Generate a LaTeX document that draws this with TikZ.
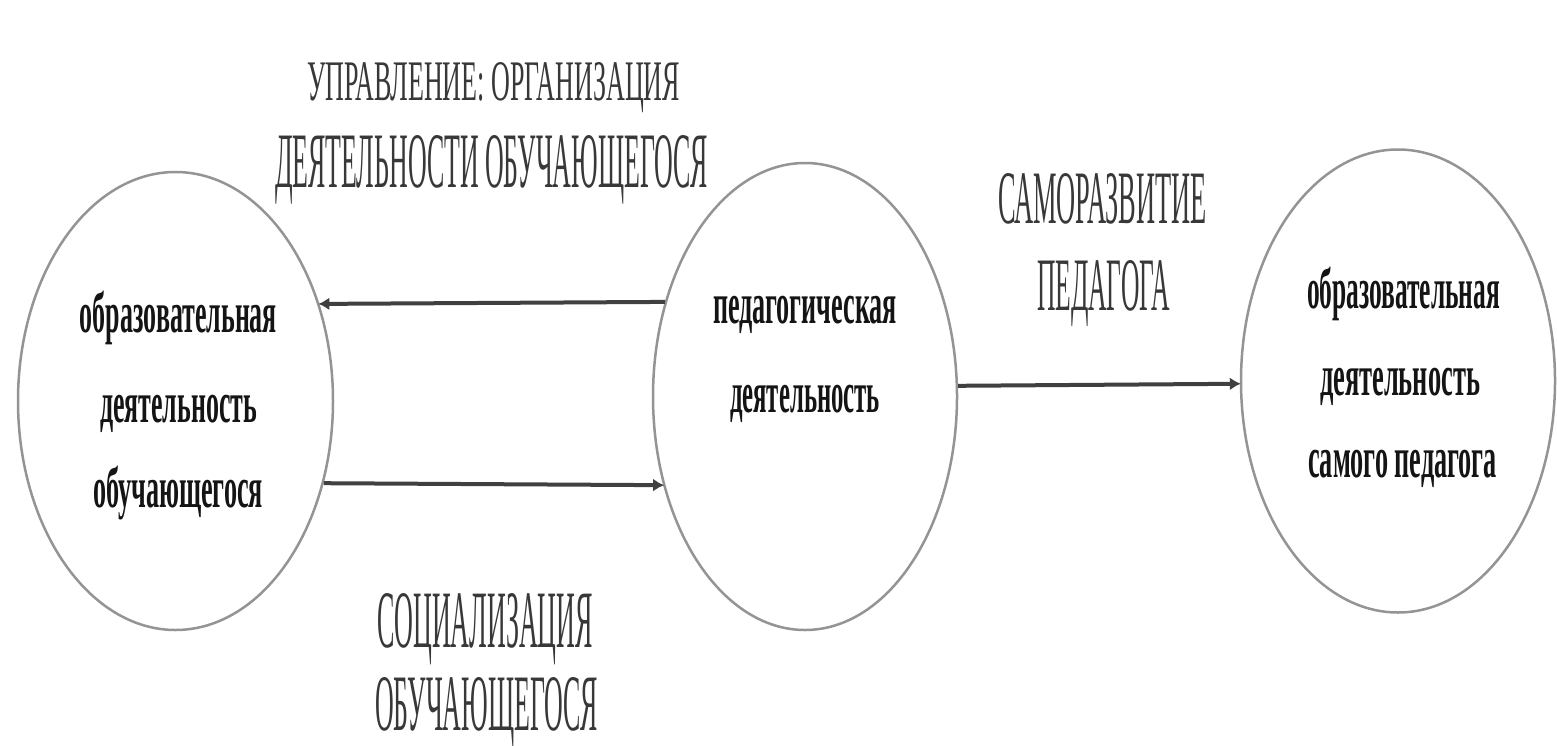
\documentclass[tikz,border=0pt]{standalone}
\usepackage{fontspec}
\setmainfont{Liberation Serif}
\usetikzlibrary{shapes.geometric,arrows.meta}
\newcommand\capln[3]{\resizebox{#1pt}{#2pt}{\fontsize{60}{60}\selectfont #3}}
\newcommand\lowln[2]{\resizebox{#1pt}{\height}{\fontsize{58}{58}\selectfont\bfseries #2}}
\tikzset{
  blob/.style={ellipse, draw=black!42, line width=2.5pt, inner sep=0pt,
               minimum width=#1},
  lbl/.style={inner sep=0pt, anchor=base, text=black!78},
  etxt/.style={inner sep=0pt, anchor=base, text=black!92},
  arr/.style={draw=black!75, line width=4pt,
              -{Latex[length=11pt,width=13pt]}, shorten >=-1pt}
}
\begin{document}
\begin{tikzpicture}[x=1pt,y=-1pt]
\useasboundingbox[fill=white] (0,0) rectangle (1557,745);
% ellipses
\node[blob=315pt, minimum height=458pt] (L) at (175.5,401) {};
\node[blob=304pt, minimum height=467pt] (M) at (805,396.5) {};
\node[blob=314pt, minimum height=463pt] (R) at (1398,381) {};
% ellipse texts
\node[etxt] (l1) at (178.5,332) {\lowln{197}{образовательная}};
\node[etxt] (l2) at (178.5,422) {\lowln{157}{деятельность}};
\node[etxt] (l3) at (178,507) {\lowln{170}{обучающегося}};
\node[etxt] (m1) at (805,323) {\lowln{184}{педагогическая}};
\node[etxt] (m2) at (805,412) {\lowln{150}{деятельность}};
\node[etxt] (r1) at (1403.5,308) {\lowln{193}{образовательная}};
\node[etxt] (r2) at (1400,395) {\lowln{160}{деятельность}};
\node[etxt] (r3) at (1402.5,477) {\lowln{189}{самого педагога}};
% labels
\node[lbl] (t1) at (493.5,100) {\capln{373}{38}{УПРАВЛЕНИЕ: ОРГАНИЗАЦИЯ}};
\node[lbl] (t2) at (491.5,187) {\capln{433}{52}{ДЕЯТЕЛЬНОСТИ ОБУЧАЮЩЕГОСЯ}};
\node[lbl] (s1) at (1102.5,223) {\capln{209}{50}{САМОРАЗВИТИЕ}};
\node[lbl] (s2) at (1103.5,310) {\capln{133}{50}{ПЕДАГОГА}};
\node[lbl] (b1) at (485,647) {\capln{216}{54}{СОЦИАЛИЗАЦИЯ}};
\node[lbl] (b2) at (486.5,730) {\capln{223}{53}{ОБУЧАЮЩЕГОСЯ}};
% connectors
\draw[arr] (M.146.1) -- (L.34.5);
\draw[arr] (L.-29.8) -- (M.212.2);
\draw[arr] (M.4.3) -- (R.181.5);
\end{tikzpicture}
\end{document}
